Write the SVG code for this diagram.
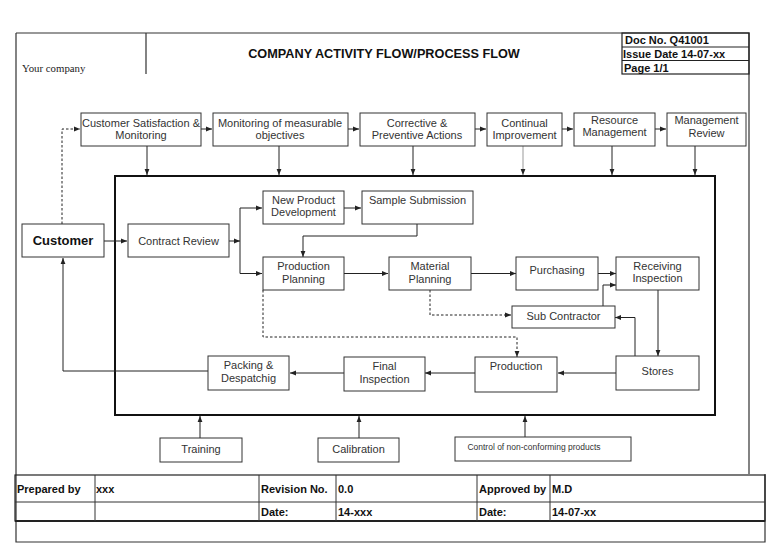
<svg xmlns="http://www.w3.org/2000/svg" width="768" height="543" viewBox="0 0 768 543">
<style>
.frame{fill:none;stroke:#333;stroke-width:1.2}
.box rect{fill:#fff;stroke:#333;stroke-width:1}
.lbl{font-family:"Liberation Sans",Arial,sans-serif;font-size:11px;fill:#333;text-anchor:middle}
.hdr{font-family:"Liberation Sans",Arial,sans-serif;font-size:11px;font-weight:bold;fill:#111}
.con path{fill:none;stroke:#222;stroke-width:1}
.con .dash{stroke-dasharray:2.5,2}
</style>
<defs>
<marker id="ah" viewBox="0 0 10 10" refX="10" refY="5" markerWidth="6" markerHeight="6" orient="auto" markerUnits="userSpaceOnUse">
<path d="M0,1 L10,5 L0,9 z" fill="#222"/>
</marker>
</defs>
<rect width="768" height="543" fill="#fff"/>

<g id="page-frame">
<path class="frame" d="M16,33 H749 V474 M16,33 V542 H765 V474 M146,33 V74"/>
<text x="22" y="72" font-family="Liberation Serif,Times New Roman,serif" font-size="10.8" fill="#222">Your company</text>
<text x="384" y="58" font-family="Liberation Sans,Arial,sans-serif" font-size="12.7" font-weight="bold" text-anchor="middle" fill="#111">COMPANY ACTIVITY FLOW/PROCESS FLOW</text>
<g id="doc-box">
<rect x="622" y="33" width="127" height="41" fill="none" stroke="#222" stroke-width="1.2"/>
<path d="M622,47 H749 M622,60.5 H749" stroke="#222" stroke-width="1.2"/>
<text class="hdr" x="625" y="44">Doc No. Q41001</text>
<text class="hdr" x="623" y="58">Issue Date 14-07-xx</text>
<text class="hdr" x="624" y="72">Page 1/1</text>
</g>
</g>

<g id="footer">
<rect x="15" y="475" width="750" height="46" fill="none" stroke="#222" stroke-width="1.2"/>
<path d="M15,521 H765" stroke="#222" stroke-width="2"/>
<path d="M15,502 H765 M95,475 V521 M259,475 V521 M336,475 V521 M477,475 V521 M550,475 V521" stroke="#333" stroke-width="1"/>
<text class="hdr" x="17" y="493">Prepared by</text>
<text class="hdr" x="96" y="493">xxx</text>
<text class="hdr" x="261" y="493">Revision No.</text>
<text class="hdr" x="338" y="493">0.0</text>
<text class="hdr" x="479" y="493">Approved by</text>
<text class="hdr" x="552" y="493">M.D</text>
<text class="hdr" x="261" y="516">Date:</text>
<text class="hdr" x="338" y="516">14-xxx</text>
<text class="hdr" x="479" y="516">Date:</text>
<text class="hdr" x="552" y="516">14-07-xx</text>
</g>

<g id="process-area">
<rect x="115" y="176" width="600" height="239" fill="none" stroke="#111" stroke-width="2"/>
</g>

<g id="connectors" class="con">
<path class="dash" d="M62,224 V129 H80" marker-end="url(#ah)"/>
<path d="M201,129 H212" marker-end="url(#ah)"/>
<path d="M348,129 H359" marker-end="url(#ah)"/>
<path d="M475,129 H486" marker-end="url(#ah)"/>
<path d="M562,129 H573" marker-end="url(#ah)"/>
<path d="M655,129 H666" marker-end="url(#ah)"/>
<path d="M147,146 V175" marker-end="url(#ah)"/>
<path d="M279,146 V175" marker-end="url(#ah)"/>
<path d="M413,146 V175" marker-end="url(#ah)"/>
<path d="M523,146 V175" marker-end="url(#ah)" style="stroke:#999"/>
<path d="M612,146 V175" marker-end="url(#ah)"/>
<path d="M695,146 V175" marker-end="url(#ah)"/>
<path d="M104,241 H127" marker-end="url(#ah)"/>
<path d="M229,241 H240" marker-end="url(#ah)"/>
<path d="M240,208 V273.5"/>
<path d="M240,208 H262" marker-end="url(#ah)"/>
<path d="M240,273.5 H262" marker-end="url(#ah)"/>
<path d="M344,208 H361" marker-end="url(#ah)"/>
<path d="M417,224 V236 H303 V257" marker-end="url(#ah)"/>
<path d="M344,273.5 H388" marker-end="url(#ah)"/>
<path d="M471,273.5 H516" marker-end="url(#ah)"/>
<path d="M598,273.5 H616" marker-end="url(#ah)"/>
<path d="M603,306 V285 H616" marker-end="url(#ah)"/>
<path class="dash" d="M430,290 V315 H511" marker-end="url(#ah)"/>
<path d="M658,290 V356" marker-end="url(#ah)"/>
<path d="M635,356 V317.5 H615" marker-end="url(#ah)"/>
<path d="M616,373 H558" marker-end="url(#ah)"/>
<path class="dash" d="M263,290 V337 H517 V357" marker-end="url(#ah)"/>
<path d="M475,373 H425" marker-end="url(#ah)"/>
<path d="M344,373 H290" marker-end="url(#ah)"/>
<path d="M208,371 H63 V258" marker-end="url(#ah)"/>
<path d="M200,438 V416" marker-end="url(#ah)"/>
<path d="M359,438 V416" marker-end="url(#ah)"/>
<path d="M525,437 V416" marker-end="url(#ah)"/>
</g>

<g id="n-cust-sat" class="box"><rect x="81" y="113" width="120" height="33"/><text class="lbl" x="141" y="127">Customer Satisfaction &amp;</text><text class="lbl" x="141" y="139">Monitoring</text></g>
<g id="n-monitoring" class="box"><rect x="213" y="113" width="135" height="33"/><text class="lbl" x="280" y="127">Monitoring of measurable</text><text class="lbl" x="280" y="139">objectives</text></g>
<g id="n-corrective" class="box"><rect x="360" y="113" width="115" height="33"/><text class="lbl" x="417" y="127">Corrective &amp;</text><text class="lbl" x="417" y="139">Preventive Actions</text></g>
<g id="n-continual" class="box"><rect x="487" y="113" width="75" height="33"/><text class="lbl" x="524.5" y="127">Continual</text><text class="lbl" x="524.5" y="139">Improvement</text></g>
<g id="n-resource" class="box"><rect x="574" y="113" width="81" height="33"/><text class="lbl" x="614.5" y="124">Resource</text><text class="lbl" x="614.5" y="136">Management</text></g>
<g id="n-mgmt-review" class="box"><rect x="667" y="113" width="79" height="33"/><text class="lbl" x="706.5" y="124">Management</text><text class="lbl" x="706.5" y="137">Review</text></g>

<g id="n-customer" class="box"><rect x="22" y="224" width="82" height="33"/><text class="lbl" x="63" y="245" style="font-size:13px;font-weight:bold;fill:#111">Customer</text></g>
<g id="n-contract" class="box"><rect x="128" y="224" width="101" height="33"/><text class="lbl" x="178.5" y="245">Contract Review</text></g>
<g id="n-npd" class="box"><rect x="263" y="191" width="81" height="33"/><text class="lbl" x="303.5" y="204">New Product</text><text class="lbl" x="303.5" y="216">Development</text></g>
<g id="n-sample" class="box"><rect x="362" y="191" width="111" height="33"/><text class="lbl" x="417.5" y="204">Sample Submission</text></g>
<g id="n-prod-plan" class="box"><rect x="263" y="257" width="81" height="33"/><text class="lbl" x="303.5" y="270">Production</text><text class="lbl" x="303.5" y="283">Planning</text></g>
<g id="n-mat-plan" class="box"><rect x="389" y="257" width="82" height="33"/><text class="lbl" x="430" y="270">Material</text><text class="lbl" x="430" y="283">Planning</text></g>
<g id="n-purchasing" class="box"><rect x="516" y="257" width="82" height="33"/><text class="lbl" x="557" y="274">Purchasing</text></g>
<g id="n-receiving" class="box"><rect x="616" y="257" width="83" height="33"/><text class="lbl" x="657.5" y="270">Receiving</text><text class="lbl" x="657.5" y="282">Inspection</text></g>
<g id="n-subcontractor" class="box"><rect x="512" y="306" width="103" height="22"/><text class="lbl" x="563.5" y="320">Sub Contractor</text></g>
<g id="n-stores" class="box"><rect x="616" y="356" width="83" height="34"/><text class="lbl" x="657.5" y="375">Stores</text></g>
<g id="n-production" class="box"><rect x="475" y="357" width="82" height="35"/><text class="lbl" x="516" y="370">Production</text></g>
<g id="n-final" class="box"><rect x="344" y="357" width="81" height="34"/><text class="lbl" x="384.5" y="370">Final</text><text class="lbl" x="384.5" y="383">Inspection</text></g>
<g id="n-packing" class="box"><rect x="208" y="356" width="81" height="34"/><text class="lbl" x="248.5" y="369">Packing &amp;</text><text class="lbl" x="248.5" y="382">Despatchig</text></g>

<g id="n-training" class="box"><rect x="160" y="438" width="82" height="24"/><text class="lbl" x="201" y="453">Training</text></g>
<g id="n-calibration" class="box"><rect x="318" y="438" width="81" height="24"/><text class="lbl" x="358.5" y="453">Calibration</text></g>
<g id="n-control" class="box"><rect x="455" y="437" width="176" height="24"/><text class="lbl" x="534" y="450" style="font-size:8.5px">Control of non-conforming products</text></g>
</svg>
